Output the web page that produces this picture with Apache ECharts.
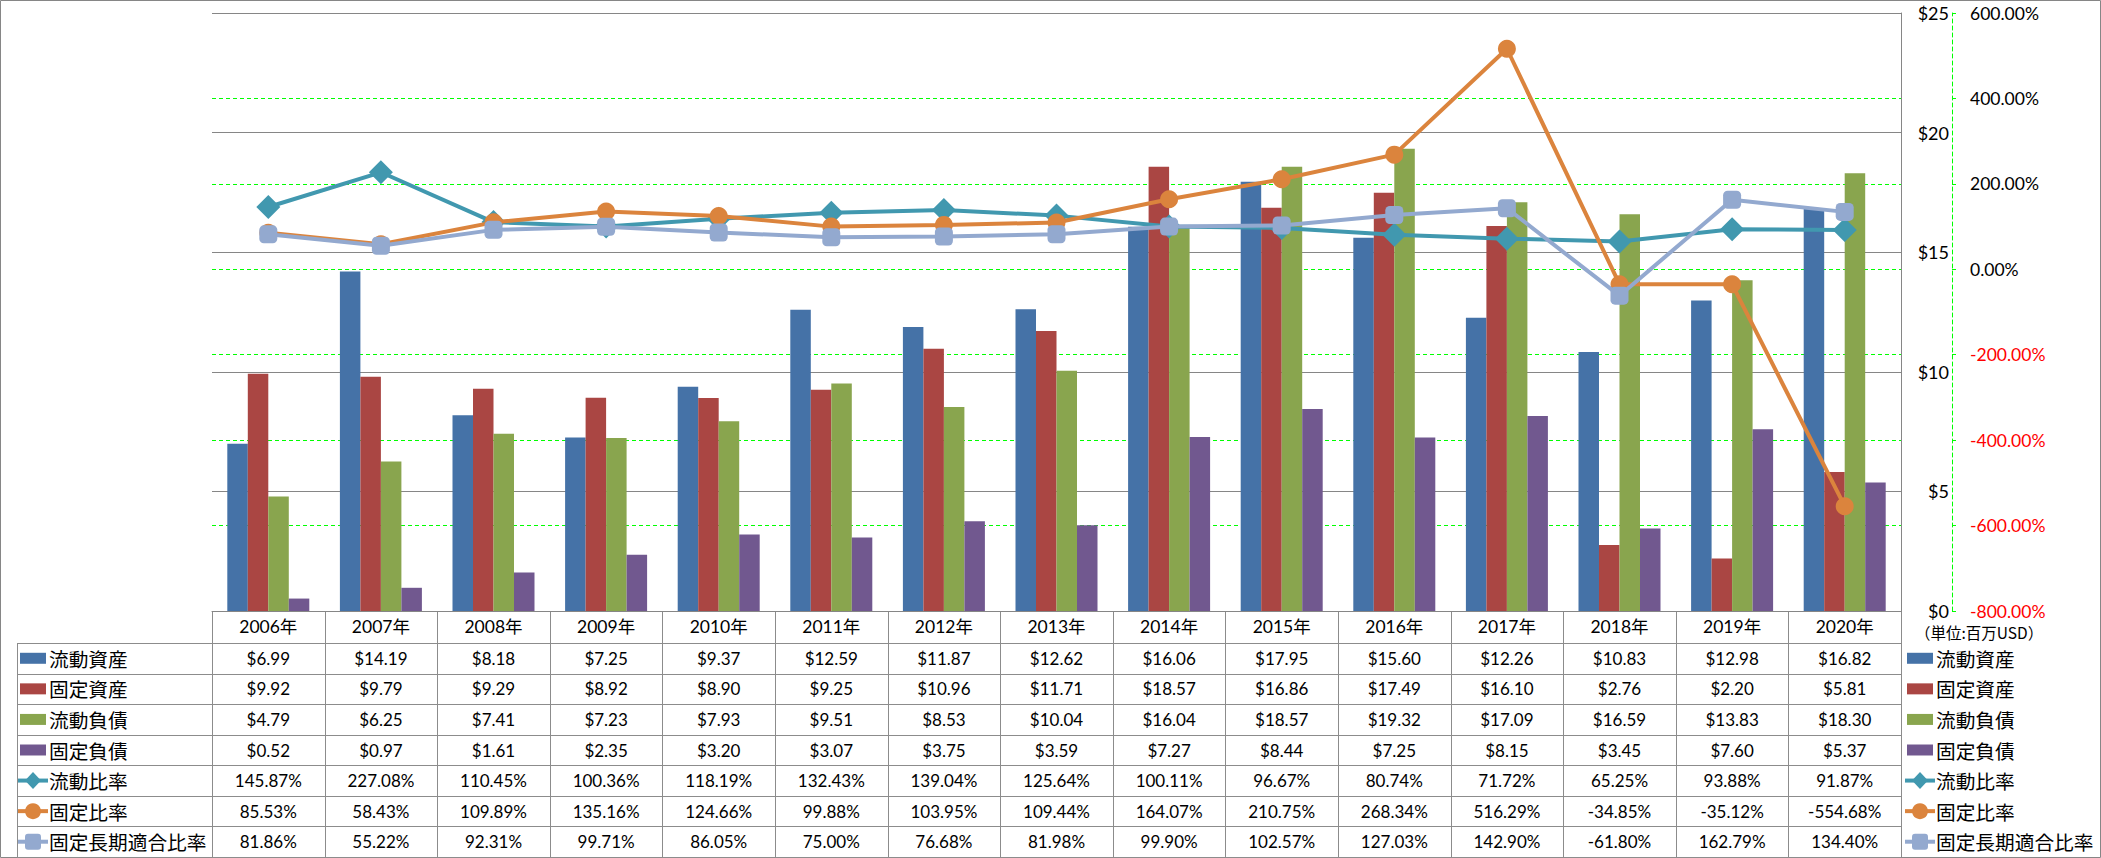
<!DOCTYPE html>
<html><head><meta charset="utf-8">
<script src="https://cdn.jsdelivr.net/npm/echarts@6/dist/echarts.min.js"></script>
<style>html,body{margin:0;padding:0;background:#fff}#c{width:2101px;height:858px}</style>
</head><body><div id="c"></div>
<script>
// ---------- data ----------
const years = ['2006年','2007年','2008年','2009年','2010年','2011年','2012年','2013年','2014年','2015年','2016年','2017年','2018年','2019年','2020年'];
const barNames = ['流動資産','固定資産','流動負債','固定負債'];
const lineNames = ['流動比率','固定比率','固定長期適合比率'];
const currentAssets = [6.99,14.19,8.18,7.25,9.37,12.59,11.87,12.62,16.06,17.95,15.60,12.26,10.83,12.98,16.82];
const fixedAssets = [9.92,9.79,9.29,8.92,8.90,9.25,10.96,11.71,18.57,16.86,17.49,16.10,2.76,2.20,5.81];
const currentLiab = [4.79,6.25,7.41,7.23,7.93,9.51,8.53,10.04,16.04,18.57,19.32,17.09,16.59,13.83,18.30];
const fixedLiab = [0.52,0.97,1.61,2.35,3.20,3.07,3.75,3.59,7.27,8.44,7.25,8.15,3.45,7.60,5.37];
const currentRatio = [145.87,227.08,110.45,100.36,118.19,132.43,139.04,125.64,100.11,96.67,80.74,71.72,65.25,93.88,91.87];
const fixedRatio = [85.53,58.43,109.89,135.16,124.66,99.88,103.95,109.44,164.07,210.75,268.34,516.29,-34.85,-35.12,-554.68];
const fixedLongRatio = [81.86,55.22,92.31,99.71,86.05,75.00,76.68,81.98,99.90,102.57,127.03,142.90,-61.80,162.79,134.40];
const unitLabel = '（単位:百万USD）';
// ---------- style ----------
const barColors = ['#4572A7','#AA4643','#89A54E','#71588F'];
const lineColors = ['#4198AF','#DB843D','#93A9CF'];
const lineSymbols = ['diamond','circle','roundRect'];
const lineSymbolSizes = [24,18,18];
const FONT = 'Lato, "Noto Sans CJK JP", sans-serif';
const CJK = '"Noto Sans CJK JP", sans-serif';
const GRID_C = '#868686', TABLE_C = '#8c8c8c', GREEN = '#00FF00';

const GL = 212, GR = 1901, GT = 13, GB = 611;
const HB = 643, TB = 857, TL = 17;
const nCat = years.length;
const colW = (GR - GL) / nCat;
const barData = [currentAssets, fixedAssets, currentLiab, fixedLiab];
const lineData = [currentRatio, fixedRatio, fixedLongRatio];
const rows = [];
barData.forEach((d,i)=>rows.push({name:barNames[i], kind:'bar', idx:i, vals:d.map(v=>'$'+v.toFixed(2))}));
lineData.forEach((d,i)=>rows.push({name:lineNames[i], kind:'line', idx:i, vals:d.map(v=>v.toFixed(2)+'%')}));
const rowH = (TB - HB) / rows.length;

const g = [];
function hline(x1,x2,y,c){g.push({type:'line',silent:true,shape:{x1:x1,y1:Math.round(y)+0.5,x2:x2,y2:Math.round(y)+0.5},style:{stroke:c,lineWidth:1}});}
function vline(x,y1,y2,c){g.push({type:'line',silent:true,shape:{x1:Math.round(x)+0.5,y1:y1,x2:Math.round(x)+0.5,y2:y2},style:{stroke:c,lineWidth:1}});}
function text(x,y,t,size,align,fam,color){g.push({type:'text',silent:true,x:x,y:y,style:{text:t,fontSize:size,fontFamily:fam||FONT,fill:color||'#000',textAlign:align||'center',align:align||'center',textVerticalAlign:'middle',verticalAlign:'middle'}});}
function icon(x,cy,row){
  if(row.kind==='bar'){
    g.push({type:'rect',silent:true,shape:{x:x,y:cy-5.5,width:26,height:11},style:{fill:barColors[row.idx]}});
  } else {
    const c = lineColors[row.idx];
    g.push({type:'line',silent:true,shape:{x1:x-2,y1:cy,x2:x+28,y2:cy},style:{stroke:c,lineWidth:4}});
    const cx = x+13;
    if(row.idx===0) g.push({type:'polygon',silent:true,shape:{points:[[cx,cy-8.5],[cx+8,cy],[cx,cy+8.5],[cx-8,cy]]},style:{fill:c}});
    else if(row.idx===1) g.push({type:'circle',silent:true,shape:{cx:cx,cy:cy,r:8},style:{fill:c}});
    else g.push({type:'rect',silent:true,shape:{x:cx-8,y:cy-8,width:16,height:16,r:3},style:{fill:c}});
  }
}
// outer border
g.push({type:'rect',silent:true,shape:{x:0.5,y:0.5,width:2100,height:857},style:{fill:'none',stroke:GRID_C,lineWidth:1}});
// table lines
for(let i=0;i<=rows.length;i++) hline(TL, GR, HB + i*rowH, TABLE_C);
vline(TL, HB, TB, TABLE_C);
for(let k=0;k<=nCat;k++) vline(GL + k*colW, GB, TB, TABLE_C);
// table contents
rows.forEach((r,i)=>{
  const cy = HB + (i+0.5)*rowH;
  icon(20, cy, r);
  text(49, cy, r.name, 19.7, 'left', CJK);
  r.vals.forEach((v,k)=>text(GL + (k+0.5)*colW, cy, v, 17, 'center'));
  // right legend
  icon(1907, cy, r);
  text(1936, cy, r.name, 19.7, 'left', CJK);
});
text(1915, 632, unitLabel, 15.5, 'left', CJK);

const series = [];
barData.forEach((d,i)=>series.push({name:barNames[i],type:'bar',data:d,barWidth:20.5,barGap:'0%',itemStyle:{color:barColors[i]},yAxisIndex:0}));
lineData.forEach((d,i)=>series.push({name:lineNames[i],type:'line',data:d,yAxisIndex:1,symbol:lineSymbols[i],symbolSize:lineSymbolSizes[i],showSymbol:true,lineStyle:{color:lineColors[i],width:4},itemStyle:{color:lineColors[i]},z:3+i}));

const chart = echarts.init(document.getElementById('c'), null, {renderer:'svg'});
chart.setOption({
  animation:false,
  backgroundColor:'#fff',
  grid:{left:GL,right:2101-GR,top:GT,bottom:858-GB,containLabel:false,outerBoundsMode:'none'},
  xAxis:{type:'category',data:years,position:'bottom',
    axisLine:{lineStyle:{color:GRID_C,width:1}},axisTick:{show:false},
    axisLabel:{interval:0,margin:7,fontSize:17.5,fontFamily:FONT,color:'#000'},splitLine:{show:false}},
  yAxis:[
    {type:'value',min:0,max:25,interval:5,position:'right',
      axisLine:{show:true,lineStyle:{color:GRID_C}},axisTick:{show:false},
      splitLine:{show:true,lineStyle:{color:GRID_C,width:1}},
      axisLabel:{formatter:v=>'$'+v,align:'right',margin:48,fontSize:18,fontFamily:FONT,color:'#000'}},
    {type:'value',min:-800,max:600,interval:200,position:'right',offset:51,
      axisLine:{show:true,lineStyle:{color:GREEN,type:[4,3],width:1}},
      axisTick:{show:true,length:4,lineStyle:{color:GREEN}},
      splitLine:{show:true,showMinLine:false,showMaxLine:false,lineStyle:{color:GREEN,type:[4,3],width:1}},
      axisLabel:{margin:18,fontSize:17.5,fontFamily:FONT,color:'#000',
        formatter:v=>{const s=v.toFixed(2)+'%';return v<0?'{neg|'+s+'}':s;},
        rich:{neg:{color:'#FF0000',fontSize:17.5,fontFamily:FONT}}}}
  ],
  tooltip:{show:false},
  series:series,
  graphic:{elements:g}
});
</script></body></html>
